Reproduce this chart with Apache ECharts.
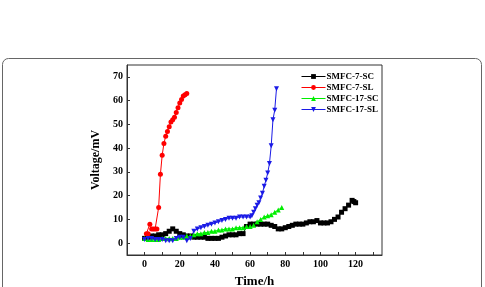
<!DOCTYPE html>
<html>
<head>
<meta charset="utf-8">
<script src="https://cdn.jsdelivr.net/npm/echarts@6/dist/echarts.min.js"></script>
<style>
  html, body { margin: 0; padding: 0; background: #fff; }
  #chart { width: 485px; height: 287px; }
</style>
</head>
<body>
<div id="chart"></div>
<script>
// SMFC-7-SC (black squares)
const sc7Time = [0, 2, 4, 6, 8, 10, 12, 14, 16, 18, 20, 22, 24, 26, 28, 30, 32, 34, 36, 38, 40, 42, 44, 46, 48, 50, 52, 54, 56, 58, 60, 62, 64, 66, 68, 70, 72, 74, 76, 78, 80, 82, 84, 86, 88, 90, 92, 94, 96, 98, 100, 102, 104, 106, 108, 110, 112, 114, 116, 118, 119, 120]
const sc7Volt = [2, 2.5, 3, 3, 3.5, 3.5, 4, 5, 6, 5, 4, 3.5, 3, 3, 2.5, 2.5, 2.5, 2.5, 2, 2, 2, 2, 2.5, 3, 3.5, 3.5, 3.5, 4, 4, 7, 8, 8, 8, 8, 8, 8, 7.5, 7, 6, 6, 6.5, 7, 7.5, 8, 8, 8, 8.5, 9, 9, 9.5, 8.5, 8.5, 8.5, 9, 10, 11, 13, 14.5, 16, 18, 17.5, 17]

// SMFC-7-SL (red circles)
const sl7Time = [1, 2, 3, 4, 5, 6, 7, 8, 9, 10, 11, 12, 13, 14, 15, 16, 17, 18, 19, 20, 21, 22, 23, 24]
const sl7Volt = [4, 4, 8, 6, 6, 6, 6, 15, 29, 37, 42, 45, 47, 49, 51, 52, 53, 55, 57, 59, 60.5, 62, 62.5, 63]

// SMFC-17-SC (green triangles)
const sc17Time = [0, 2, 4, 6, 8, 10, 12, 14, 16, 18, 20, 22, 24, 26, 28, 30, 32, 34, 36, 38, 40, 42, 44, 46, 48, 50, 52, 54, 56, 58, 60, 62, 64, 66, 68, 70, 72, 74, 76, 78]
const sc17Volt = [2, 1.5, 1.5, 1.5, 1.5, 2, 2, 2, 2, 2, 2.5, 2.5, 3, 3, 3.5, 4, 4, 4.5, 4.5, 5, 5, 5.5, 5.5, 6, 6, 6, 6.5, 6.5, 6.5, 7, 7, 7.5, 9, 10, 11, 11.5, 12, 13, 14, 15]

// SMFC-17-SL (blue down triangles)
const sl17Time = [0, 2, 4, 6, 8, 10, 12, 14, 16, 18, 20, 22, 24, 26, 28, 30, 32, 34, 36, 38, 40, 42, 44, 46, 48, 50, 52, 54, 56, 58, 60, 61, 62, 63, 64, 65, 66, 67, 68, 69, 70, 71, 72, 73, 74, 75]
const sl17Volt = [1.5, 2, 2, 1.5, 1.5, 1.5, 1, 1, 1, 2, 2.5, 2.5, 1, 2, 5, 6, 6.5, 7, 7.5, 8, 8.5, 9, 9.5, 10, 10.5, 10.5, 10.5, 11, 11, 11, 11, 11.5, 13, 14.5, 16, 17, 19, 21, 24, 26.5, 29.5, 33.5, 41, 52, 56, 65]

const xTicks = [0, 10, 20, 30, 40, 50, 60, 70, 80, 90, 100, 110, 120, 130]
const xLabels = [0, 20, 40, 60, 80, 100, 120]
const yTicks = [0, 10, 20, 30, 40, 50, 60, 70]

const zip = (xs, ys) => xs.map((x, i) => [x, ys[i]])

let chart = echarts.init(document.getElementById('chart'))
let font = 'Liberation Serif'
let options = {
  animation: false,
  graphic: [{
    type: 'rect',
    shape: { x: 2.5, y: 58.5, width: 479, height: 260, r: 6 },
    style: { fill: 'none', stroke: '#666', lineWidth: 1 },
    z: -1
  }],
  grid: {
    left: 127,
    top: 65,
    right: 103,
    bottom: 32,
    containLabel: false,
    outerBoundsMode: 'none',
    show: true,
    borderColor: '#333',
    borderWidth: 1
  },
  legend: {
    orient: 'vertical',
    left: 296,
    top: 67,
    itemWidth: 24,
    itemHeight: 6,
    itemGap: 2,
    lineStyle: { width: 1 },
    textStyle: { fontFamily: font, fontWeight: 'bold', fontSize: 9, color: '#000', padding: [0, 0, 0, -4] },
    data: ['SMFC-7-SC', 'SMFC-7-SL', 'SMFC-17-SC', 'SMFC-17-SL']
  },
  xAxis: {
    type: 'value',
    min: -10,
    max: 135,
    name: 'Time/h',
    nameLocation: 'middle',
    nameGap: 20,
    nameTextStyle: { fontFamily: font, fontWeight: 'bold', fontSize: 13, color: '#000' },
    axisLine: { onZero: false, lineStyle: { color: '#333' } },
    axisTick: { inside: true, length: 3, customValues: xTicks, lineStyle: { color: '#333' } },
    axisLabel: { customValues: xLabels, fontFamily: font, fontWeight: 'bold', fontSize: 10, color: '#000', margin: 4 },
    splitLine: { show: false }
  },
  yAxis: {
    type: 'value',
    min: -5,
    max: 75,
    name: 'Voltage/mV',
    nameLocation: 'middle',
    nameGap: 16,
    nameTextStyle: { fontFamily: font, fontWeight: 'bold', fontSize: 12, color: '#000' },
    axisLine: { onZero: false, lineStyle: { color: '#333' } },
    axisTick: { inside: true, length: 3, customValues: yTicks, lineStyle: { color: '#333' } },
    axisLabel: { customValues: yTicks, fontFamily: font, fontWeight: 'bold', fontSize: 10, color: '#000', margin: 4 },
    splitLine: { show: false }
  },
  series: [
    {
      name: 'SMFC-7-SC',
      type: 'line',
      data: zip(sc7Time, sc7Volt),
      symbol: 'rect',
      symbolSize: 5,
      lineStyle: { width: 1, color: '#000' },
      itemStyle: { color: '#000' }
    },
    {
      name: 'SMFC-7-SL',
      type: 'line',
      data: zip(sl7Time, sl7Volt),
      symbol: 'circle',
      symbolSize: 5,
      lineStyle: { width: 1, color: '#ff0000' },
      itemStyle: { color: '#ff0000' }
    },
    {
      name: 'SMFC-17-SC',
      type: 'line',
      data: zip(sc17Time, sc17Volt),
      symbol: 'triangle',
      symbolSize: 5,
      lineStyle: { width: 1, color: '#00ee00' },
      itemStyle: { color: '#00ee00' }
    },
    {
      name: 'SMFC-17-SL',
      type: 'line',
      data: zip(sl17Time, sl17Volt),
      symbol: 'triangle',
      symbolRotate: 180,
      symbolSize: 5,
      lineStyle: { width: 1, color: '#1a1ae6' },
      itemStyle: { color: '#1a1ae6' }
    }
  ]
}
chart.setOption(options)
</script>
</body>
</html>
